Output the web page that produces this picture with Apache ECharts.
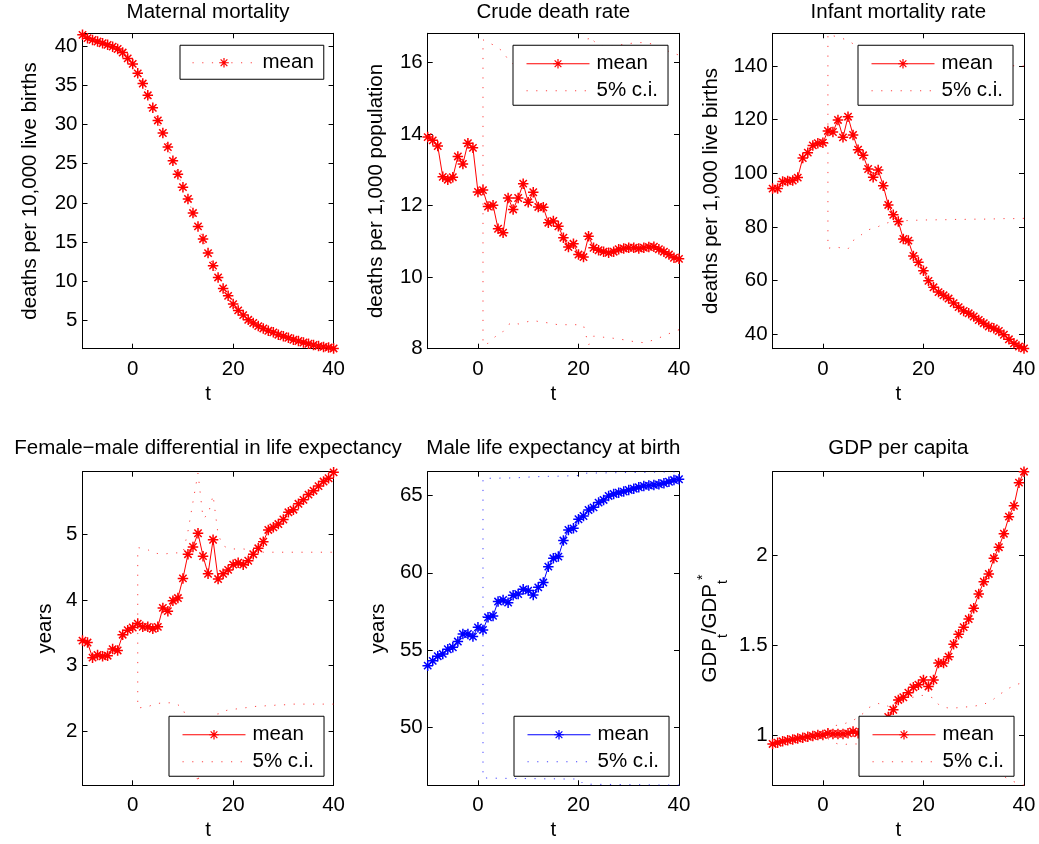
<!DOCTYPE html>
<html>
<head>
<meta charset="utf-8">
<script src="https://cdn.jsdelivr.net/npm/echarts@6/dist/echarts.min.js"></script>
<style>
html,body{margin:0;padding:0;background:#fff;}
#chart{width:1039px;height:844px;}
</style>
</head>
<body>
<div id="chart"></div>
<script>
// ---------------- data ----------------
const tValues = [-10,-9,-8,-7,-6,-5,-4,-3,-2,-1,0,1,2,3,4,5,6,7,8,9,10,11,12,13,14,15,16,17,18,19,20,21,22,23,24,25,26,27,28,29,30,31,32,33,34,35,36,37,38,39,40];
const ciT = [1,2,3,4,5,6,7,8,9,10,11,12,13,14,15,16,17,18,19,20,21,22,23,24,25,26,27,28,29,30,31,32,33,34,35,36,37,38,39,40];
const xTicks = [0, 20, 40];

const maternalMean = [41.4,40.98,40.76,40.55,40.34,40.13,39.9,39.6,39.15,38.4,37.7,
  36.5,35.2,33.7,32.1,30.5,28.9,27.1,25.35,23.65,22.0,
  20.5,18.7,17.0,15.4,13.6,12.0,10.5,9.1,8.15,7.1,
  6.3,5.7,5.1,4.7,4.3,4.0,3.7,3.5,3.2,3.0,
  2.8,2.55,2.4,2.2,2.05,1.9,1.75,1.65,1.57,1.45];
const maternalTicks = [5,10,15,20,25,30,35,40];

const crudeMean = [13.91,13.82,13.66,12.8,12.72,12.79,13.37,13.16,13.74,13.61,12.38,
  12.43,11.97,12.01,11.35,11.24,12.21,11.89,12.21,12.61,12.09,
  12.37,11.96,11.95,11.52,11.57,11.42,11.1,10.84,10.93,10.63,
  10.56,11.14,10.82,10.75,10.71,10.68,10.71,10.78,10.8,10.82,
  10.82,10.8,10.82,10.84,10.85,10.78,10.71,10.63,10.54,10.51];
const crudeUpper = [16.63,16.55,16.49,16.4,16.3,16.07,15.95,15.9,15.9,15.85,
  15.85,15.8,15.75,15.7,15.7,15.7,15.7,15.7,15.7,15.7,
  15.7,16.72,16.6,16.48,16.45,16.45,16.46,16.48,16.5,16.52,
  16.54,16.55,16.55,16.53,16.5,16.45,16.4,16.3,16.25,16.2];
const crudeLower = [8.12,8.15,8.29,8.39,8.48,8.67,8.74,8.69,8.72,8.76,
  8.79,8.76,8.74,8.72,8.69,8.67,8.67,8.67,8.67,8.67,
  8.65,8.1,8.35,8.34,8.32,8.31,8.29,8.27,8.25,8.22,
  8.2,8.18,8.17,8.2,8.25,8.3,8.36,8.42,8.48,8.53];
const crudeTicks = [8,10,12,14,16];

const infantMean = [94.3,94.3,96.9,97.1,97.3,98.4,105.7,107.7,110.4,111.2,111.4,
  115.8,115.4,119.9,113.4,121.1,114.3,108.8,106.7,101.6,98.5,
  101.2,95.4,88.2,84.5,82.0,75.5,74.9,69.2,66.8,63.7,
  59.9,57.5,55.7,54.5,53.3,51.6,50.1,48.7,47.8,46.6,
  45.3,44.1,42.9,42.2,41.2,39.8,38.1,36.6,35.4,34.7];
const infantUpper = [152.0,151.3,150.8,150.2,149.5,148.3,146.8,145.8,145.2,144.6,
  144.1,143.7,143.3,143.0,142.7,142.5,142.3,142.1,141.9,141.7,
  141.5,141.4,141.2,141.1,141.0,140.9,140.8,140.7,140.6,140.5,
  140.4,140.4,140.3,140.3,140.2,140.2,140.1,140.1,140.0,140.0];
const infantLower = [72.0,72.4,72.4,72.0,71.8,74.9,76.1,77.6,78.9,79.5,
  80.1,81.1,81.6,82.0,82.2,82.3,82.4,82.5,82.5,82.6,
  82.6,82.6,82.7,82.7,82.7,82.8,82.8,82.8,82.9,82.9,
  82.9,82.9,83.0,83.0,83.0,83.1,83.1,83.1,83.2,83.2];
const infantTicks = [40,60,80,100,120,140];

const femaleMean = [3.38,3.35,3.12,3.16,3.14,3.15,3.25,3.23,3.47,3.54,3.58,
  3.64,3.59,3.59,3.56,3.59,3.88,3.83,3.99,4.03,4.33,
  4.70,4.81,5.02,4.67,4.40,4.92,4.32,4.40,4.46,4.54,
  4.57,4.54,4.60,4.70,4.79,4.89,5.07,5.11,5.16,5.23,
  5.34,5.38,5.47,5.53,5.61,5.67,5.74,5.81,5.86,5.95];
const femaleUpper = [4.8,4.79,4.77,4.72,4.71,4.70,4.71,4.72,4.72,4.72,
  5.05,5.5,5.94,5.25,5.3,5.6,5.0,4.83,4.79,4.78,
  4.78,4.78,4.77,4.75,4.74,4.73,4.73,4.73,4.73,4.73,
  4.73,4.73,4.73,4.73,4.73,4.73,4.73,4.73,4.73,4.73];
const femaleLower = [2.35,2.36,2.37,2.40,2.42,2.43,2.43,2.43,2.40,2.35,
  2.1,1.7,1.2,1.9,2.0,1.7,2.27,2.30,2.32,2.33,
  2.34,2.35,2.36,2.37,2.38,2.38,2.39,2.39,2.40,2.40,
  2.40,2.41,2.41,2.41,2.41,2.41,2.41,2.41,2.41,2.41];
const femaleTicks = [2,3,4,5];

const maleMean = [53.99,54.3,54.6,54.75,55.05,55.18,55.55,56.04,56.04,55.87,56.47,
  56.3,57.12,57.21,58.14,58.24,58.07,58.55,58.63,58.93,58.85,
  58.57,59.06,59.37,60.40,60.94,61.05,62.09,62.78,62.88,63.47,
  63.68,64.07,64.24,64.55,64.72,64.98,65.11,65.19,65.26,65.37,
  65.45,65.54,65.63,65.65,65.69,65.73,65.8,65.9,66.01,66.06];
const maleUpper = [66.12,66.12,66.13,66.13,66.14,66.14,66.15,66.16,66.18,66.2,
  66.22,66.23,66.24,66.25,66.25,66.26,66.27,66.28,66.29,66.3,
  66.45,66.46,66.46,66.47,66.47,66.48,66.48,66.49,66.49,66.5,
  66.5,66.5,66.51,66.51,66.52,66.52,66.53,66.53,66.54,66.54];
const maleLower = [46.72,46.71,46.7,46.7,46.69,46.69,46.68,46.68,46.68,46.67,
  46.67,46.67,46.66,46.66,46.66,46.66,46.65,46.65,46.65,46.65,
  46.32,46.31,46.31,46.3,46.3,46.3,46.29,46.29,46.29,46.28,
  46.28,46.28,46.27,46.27,46.27,46.26,46.26,46.26,46.25,46.25];
const maleTicks = [50,55,60,65];

const gdpMean = [0.95,0.957,0.965,0.97,0.975,0.98,0.984,0.99,0.994,1.0,1.0,
  1.009,1.006,1.006,1.006,1.009,1.02,1.01,1.012,1.018,1.03,
  1.045,1.07,1.1,1.14,1.195,1.21,1.235,1.265,1.28,1.306,
  1.27,1.306,1.4,1.4,1.436,1.505,1.56,1.6,1.645,1.705,
  1.785,1.853,1.896,1.983,2.045,2.12,2.215,2.275,2.404,2.465];
const gdpUpper = [1.03,1.05,1.055,1.06,1.07,1.08,1.1,1.12,1.15,1.165,
  1.175,1.17,1.16,1.19,1.21,1.2,1.2,1.21,1.22,1.22,
  1.215,1.205,1.17,1.155,1.15,1.15,1.152,1.155,1.157,1.16,
  1.165,1.17,1.185,1.2,1.225,1.24,1.26,1.275,1.285,1.29];
const gdpLower = [0.98,0.96,0.95,0.945,0.95,0.95,0.95,0.95,0.945,0.94,
  0.935,0.93,0.93,0.925,0.92,0.915,0.91,0.905,0.9,0.9,
  0.895,0.89,0.88,0.875,0.87,0.865,0.86,0.855,0.85,0.84,
  0.835,0.83,0.82,0.81,0.79,0.77,0.75,0.74,0.73,0.72];
const gdpTicks = [1,1.5,2];

// ---------------- layout / style ----------------
const FONT = '"Liberation Sans", Arial, Helvetica, sans-serif';
const FS = 20.5;
const RED = '#ff0000';
const BLUE = '#0000ff';
const STAR = 'path://M10 0L10 20M0 10L20 10M3 3L17 17M3 17L17 3';
const DOT = [1.2, 8.5];

const panels = [
  {title:'Maternal mortality', ylabel:'deaths per 10,000 live births', mean:maternalMean, up:null, lo:null,
   color:RED, ci:'rgba(255,0,0,0.75)', meanDotted:true, ymin:1.42, ymax:41.6, yticks:maternalTicks,
   left:82.5, top:33.3, w:251.1, h:315.4, nameGap:41.5, titleTop:1.5,
   legend:{left:180, top:45.25, padding:[7,10,6,12]}},
  {title:'Crude death rate', ylabel:'deaths per 1,000 population', mean:crudeMean, up:crudeUpper, lo:crudeLower,
   color:RED, ci:'rgba(255,0,0,0.75)', ymin:8.0, ymax:16.81, yticks:crudeTicks,
   left:427.7, top:33.3, w:251.3, h:315.4, nameGap:41, titleTop:1.5,
   legend:{left:513, top:45.25, padding:[8,10,4,13]}},
  {title:'Infant mortality rate', ylabel:'deaths per 1,000 live births', mean:infantMean, up:infantUpper, lo:infantLower,
   color:RED, ci:'rgba(255,0,0,0.75)', ymin:34.6, ymax:152.2, yticks:infantTicks,
   left:772.6, top:33.3, w:251.4, h:315.4, nameGap:51, titleTop:1.5,
   legend:{left:858, top:45.25, padding:[8,10,4,13]}},
  {title:'Female\u2212male differential in life expectancy', ylabel:'years', mean:femaleMean, up:femaleUpper, lo:femaleLower,
   color:RED, ci:'rgba(255,0,0,0.75)', ymin:1.17, ymax:5.96, yticks:femaleTicks,
   left:82.5, top:471.7, w:251.1, h:313.6, nameGap:27, titleTop:438,
   legend:{left:169, top:716.25, padding:[8,10,4,13]}},
  {title:'Male life expectancy at birth', ylabel:'years', mean:maleMean, up:maleUpper, lo:maleLower,
   color:BLUE, ci:'rgba(0,0,255,0.75)', ymin:46.24, ymax:66.55, yticks:maleTicks,
   left:427.7, top:471.7, w:251.3, h:313.6, nameGap:39, titleTop:438,
   legend:{left:514, top:716.25, padding:[8,10,4,13]}},
  {title:'GDP per capita', ylabel:'GDP{s|t}/GDP{s|t}{p|*}', mean:gdpMean, up:gdpUpper, lo:gdpLower,
   color:RED, ci:'rgba(255,0,0,0.75)', ymin:0.72, ymax:2.465, yticks:gdpTicks,
   left:772.6, top:471.7, w:251.4, h:313.6, nameGap:42, titleTop:438, rich:true,
   legend:{left:859, top:716.25, padding:[8,10,4,13]}}
];

const txt = {fontFamily:FONT, fontSize:FS, color:'#000', fontWeight:'normal'};
const option = {animation:false, backgroundColor:'#fff', title:[], grid:[], xAxis:[], yAxis:[], series:[], legend:[]};

panels.forEach((p, i) => {
  option.grid.push({left:p.left, top:p.top, width:p.w, height:p.h, containLabel:false});
  option.title.push({text:p.title, left:p.left + p.w/2, top:p.titleTop, textAlign:'center', padding:0,
    textStyle:Object.assign({}, txt)});
  const axLine = {show:true, onZero:false, lineStyle:{color:'#000', width:1}};
  const tick = vals => ({show:true, inside:true, length:5, customValues:vals, lineStyle:{color:'#000', width:1}});
  option.xAxis.push({type:'value', gridIndex:i, min:-10, max:40, position:'bottom',
    axisLine:axLine, axisTick:tick(xTicks),
    axisLabel:Object.assign({customValues:xTicks, margin:10}, txt),
    splitLine:{show:false}, name:'t', nameLocation:'middle', nameGap:35, nameTextStyle:Object.assign({}, txt)});
  option.xAxis.push({type:'value', gridIndex:i, min:-10, max:40, position:'top',
    axisLine:axLine, axisTick:tick(xTicks), axisLabel:{show:false}, splitLine:{show:false}});
  const nts = Object.assign({}, txt);
  if (p.rich) {
    nts.rich = {
      s:{fontFamily:FONT, fontSize:14, color:'#000', padding:[26,0,0,0]},
      p:{fontFamily:FONT, fontSize:14, color:'#000', padding:[0,0,14,0]}
    };
  }
  option.yAxis.push({type:'value', gridIndex:i, min:p.ymin, max:p.ymax, position:'left',
    axisLine:axLine, axisTick:tick(p.yticks),
    axisLabel:Object.assign({customValues:p.yticks, margin:5}, txt),
    splitLine:{show:false}, name:p.ylabel, nameLocation:'middle', nameGap:p.nameGap, nameTextStyle:nts});
  option.yAxis.push({type:'value', gridIndex:i, min:p.ymin, max:p.ymax, position:'right',
    axisLine:axLine, axisTick:tick(p.yticks), axisLabel:{show:false}, splitLine:{show:false}});

  const meanName = 'mean|' + i;
  const ciName = '5% c.i.|' + i;
  const meanLine = {color:p.meanDotted ? p.ci : p.color, width:1, type:p.meanDotted ? DOT : 'solid'};
  const legendData = [{name:meanName, itemStyle:{color:p.color, borderColor:p.color, borderWidth:1.2}}];

  if (p.up) {
    const ciData = [];
    for (let k = p.lo.length - 1; k >= 0; k--) ciData.push([ciT[k], p.lo[k]]);
    for (let k = 0; k < p.up.length; k++) ciData.push([ciT[k], p.up[k]]);
    option.series.push({type:'line', name:ciName, xAxisIndex:2*i, yAxisIndex:2*i, data:ciData,
      symbol:'none', lineStyle:{color:p.ci, width:1, type:DOT},
      itemStyle:{color:'rgba(0,0,0,0)'}, emphasis:{disabled:true}, z:3, silent:true});
    legendData.push({name:ciName,
      itemStyle:{color:'rgba(0,0,0,0)', borderColor:'rgba(0,0,0,0)', borderWidth:0}});
  }
  option.series.push({type:'line', name:meanName, xAxisIndex:2*i, yAxisIndex:2*i,
    data:tValues.map((t, k) => [t, p.mean[k]]),
    symbol:STAR, symbolSize:10.5, symbolKeepAspect:true, showSymbol:true,
    lineStyle:meanLine,
    itemStyle:{color:p.color, borderColor:p.color, borderWidth:1.5},
    emphasis:{disabled:true}, z:2, silent:true});

  option.legend.push({left:p.legend.left, top:p.legend.top, orient:'vertical', data:legendData,
    formatter:name => name.split('|')[0], selectedMode:false,
    itemWidth:63, itemHeight:12, itemGap:6, padding:p.legend.padding,
    lineStyle:{width:1},
    borderColor:'#000', borderWidth:1, borderRadius:0, backgroundColor:'#fff',
    textStyle:Object.assign({padding:[0,0,0,2]}, txt)});
});

const chart = echarts.init(document.getElementById('chart'), null, {renderer:'canvas'});
chart.setOption(option);
</script>
</body>
</html>
